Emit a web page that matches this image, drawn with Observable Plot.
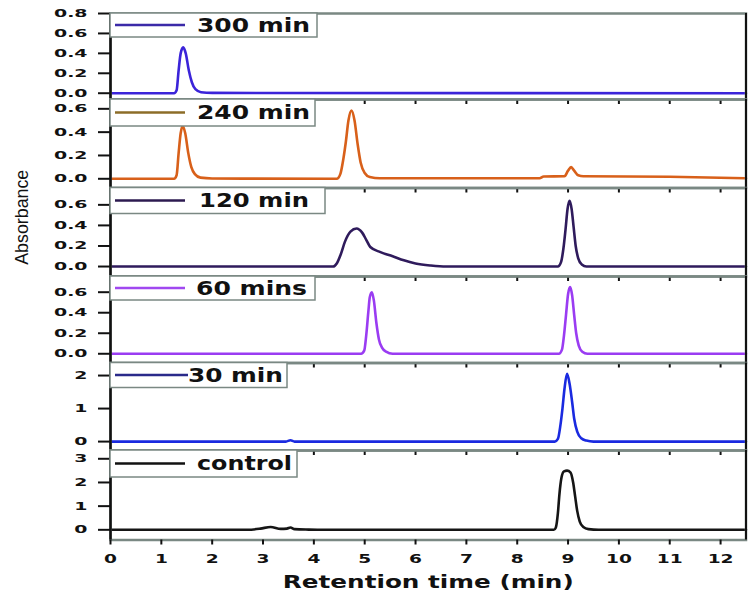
<!DOCTYPE html>
<html><head><meta charset="utf-8">
<script src="https://cdn.jsdelivr.net/npm/d3@7"></script>
<script src="https://cdn.jsdelivr.net/npm/@observablehq/plot@0.6"></script>
<style>
body{margin:0;background:#fff;}
#chart{position:relative;width:756px;height:598px;overflow:hidden;background:#fff}
#chart svg{position:absolute;left:0;top:0;overflow:visible;background:transparent}
</style></head><body><div id="chart"></div>
<script>
// ---- data (retention time in min, absorbance) ----
const xDomain = [0, 12.5];
const xTicks = [0,1,2,3,4,5,6,7,8,9,10,11,12];
const labels = ["300 min","240 min","120 min","60 mins","30 min","control"];
const xTitle = "Retention time (min)";
const yTitle = "Absorbance";
const colors = ["#3b24d9","#d8601a","#2f1b5c","#9a3cf2","#1a2ae0","#151515"];
const legendColors = ["#3b2aa8","#8c6d28","#2c1a50","#a048f0","#2a2a8a","#111111"];
const yDomains = [[-0.063,0.8],[-0.079,0.68],[-0.097,0.764],[-0.09,0.753],[-0.27,2.38],[-0.43,3.35]];
const yTicks = [[0,0.2,0.4,0.6,0.8],[0,0.2,0.4,0.6],[0,0.2,0.4,0.6],[0,0.2,0.4,0.6],[0,1,2],[0,1,2,3]];

const s300 = [[0,0],[1.25,0],[1.30,0.03],[1.34,0.23],[1.38,0.40],[1.43,0.46],[1.48,0.40],[1.54,0.23],[1.60,0.11],[1.67,0.04],[1.78,0.01],[2.0,0.003],[12.5,0]];
const s240 = [[0,0],[1.25,0],[1.30,0.03],[1.34,0.22],[1.38,0.39],[1.42,0.455],[1.47,0.39],[1.53,0.22],[1.59,0.10],[1.66,0.04],[1.77,0.01],[2.0,0.003],
  [4.45,0],[4.52,0.04],[4.58,0.17],[4.63,0.32],[4.68,0.50],[4.74,0.585],[4.80,0.50],[4.86,0.30],[4.92,0.14],[5.0,0.05],[5.1,0.015],[5.3,0.004],
  [8.44,0.004],[8.52,0.02],[8.93,0.022],[9.0,0.07],[9.06,0.10],[9.12,0.07],[9.2,0.03],[9.3,0.022],[11.0,0.018],[12.5,0.005]];
const s120 = [[0,0],[4.38,0],[4.45,0.03],[4.53,0.12],[4.61,0.24],[4.72,0.34],[4.84,0.37],[4.95,0.33],[5.03,0.26],[5.11,0.19],[5.31,0.14],[5.55,0.10],[5.77,0.06],[6.0,0.03],[6.3,0.01],[6.6,0],
  [8.80,0],[8.86,0.04],[8.91,0.18],[8.95,0.36],[8.99,0.56],[9.03,0.64],[9.07,0.56],[9.11,0.38],[9.15,0.2],[9.2,0.08],[9.27,0.02],[9.36,0],[12.5,0]];
const s60 = [[0,0],[4.93,0],[4.99,0.03],[5.03,0.18],[5.07,0.40],[5.10,0.55],[5.14,0.60],[5.18,0.52],[5.23,0.30],[5.28,0.14],[5.34,0.06],[5.42,0.02],[5.55,0],
  [8.82,0],[8.88,0.04],[8.92,0.18],[8.96,0.38],[9.0,0.58],[9.04,0.65],[9.08,0.57],[9.12,0.38],[9.16,0.2],[9.21,0.08],[9.28,0.02],[9.38,0],[12.5,0]];
const s30 = [[0,0],[3.45,0],[3.54,0.04],[3.62,0],[8.74,0],[8.80,0.08],[8.85,0.5],[8.89,1.0],[8.93,1.6],[8.98,2.05],[9.03,1.75],[9.08,1.2],[9.12,0.7],[9.18,0.3],[9.26,0.1],[9.36,0.03],[9.5,0],[12.5,0]];
const sCtrl = [[0,0],[2.7,0],[2.95,0.05],[3.15,0.12],[3.35,0.04],[3.47,0.05],[3.54,0.10],[3.62,0.03],[3.9,0.01],[4.2,0],
  [8.72,0],[8.76,0.1],[8.80,0.7],[8.83,1.5],[8.87,2.2],[8.92,2.47],[8.98,2.5],[9.05,2.42],[9.1,2.0],[9.14,1.4],[9.18,0.8],[9.23,0.35],[9.3,0.12],[9.4,0.03],[9.6,0],[12.5,0]];
const series = [s300, s240, s120, s60, s30, sCtrl];

// ---- layout ----
const W = 756, H = 598;
const frames = [[13,99],[99,187.5],[187.5,276],[276,362.5],[362.5,450],[450,539.5]];
const legendBox = [[207,24],[205,27],[215,26],[205,24],[177,25],[187,27]];
const legendTextX = [87,87,89,86,78,87];
const legendTextW = [113,113,110,111,95,95];
const gray = "#7a8883";

function legendMark(i) {
  return (index, scales, values, dims) => {
    const g = d3.create("svg:g");
    const x0 = dims.marginLeft, y0 = dims.marginTop;
    const [w, h] = legendBox[i];
    g.append("rect").attr("x", x0).attr("y", y0).attr("width", w).attr("height", h)
      .attr("fill", "white").attr("stroke", gray).attr("stroke-width", 1.5);
    g.append("line").attr("x1", x0 + 5).attr("x2", x0 + (i === 4 ? 78 : 75))
      .attr("y1", y0 + h / 2).attr("y2", y0 + h / 2)
      .attr("stroke", legendColors[i]).attr("stroke-width", 2.4);
    g.append("text").attr("x", x0 + legendTextX[i]).attr("y", y0 + h / 2).attr("dy", "0.36em")
      .attr("text-anchor", "start")
      .attr("font-family", "DejaVu Sans").attr("font-weight", "bold").attr("font-size", 19)
      .attr("fill", "#111").attr("textLength", legendTextW[i]).attr("lengthAdjust", "spacingAndGlyphs")
      .text(labels[i]);
    return g.node();
  };
}

// horizontal stretch of a text element about its own anchor point
function stretchX(t, f) {
  const x = parseFloat(t.getAttribute("x")) || 0;
  const tr = t.getAttribute("transform") || "";
  t.setAttribute("transform", `${tr} translate(${x},0) scale(${f},1) translate(${-x},0)`);
}

const chart = document.getElementById("chart");
frames.forEach(([top, bottom], i) => {
  const last = i === frames.length - 1;
  const marks = [
    Plot.line(series[i], {x: d => d[0], y: d => d[1], stroke: colors[i], strokeWidth: 2.6, curve: "monotone-x"}),
    Plot.frame({stroke: gray, strokeWidth: 2.5}),
    Plot.ruleX([xDomain[0]], {stroke: "#111", strokeWidth: 2.5}),
    Plot.ruleX([xDomain[1]], {stroke: "#111", strokeWidth: 2}),
    Plot.axisY({ticks: yTicks[i], tickFormat: i < 4 ? d3.format(".1f") : d3.format("d"),
      tickSize: 12, tickPadding: 11, strokeWidth: 2, fontSize: 11, label: null}),
    Plot.axisX({ticks: xTicks, tickSize: 5, strokeWidth: 2, tickPadding: 9, fontSize: 12,
      tickFormat: last ? d3.format("d") : () => "", label: null}),
    legendMark(i)
  ];
  if (i === 2) marks.push(Plot.text([yTitle], {text: d => d, frameAnchor: "left", textAnchor: "middle", dx: -89, dy: -15, rotate: -90,
    fontSize: 19, fontWeight: "normal", fontFamily: "Liberation Sans Narrow, Liberation Sans, sans-serif"}));
  if (last) marks.push(Plot.text([xTitle], {text: d => d, frameAnchor: "bottom", dy: 42.5, lineAnchor: "middle",
    fontSize: 17, fontWeight: "bold"}));
  const svg = Plot.plot({
    width: W, height: H,
    marginLeft: 110, marginRight: 10.5, marginTop: top, marginBottom: H - bottom,
    style: {background: "transparent", overflow: "visible", fontFamily: "DejaVu Sans", fontWeight: "bold", color: "#111"},
    x: {domain: xDomain},
    y: {domain: yDomains[i]},
    marks
  });
  chart.appendChild(svg);
  svg.querySelectorAll("text").forEach(t => {
    const p = t.closest("g[aria-label]");
    const lab = p ? p.getAttribute("aria-label") : "";
    const s = t.textContent;
    if (/y-axis/.test(lab) && s) stretchX(t, 1.72);
    else if (/x-axis/.test(lab) && s) stretchX(t, 1.55);
    else if (s === yTitle || s === xTitle) {
      t.setAttribute("textLength", s === yTitle ? 95 : 291);
      t.setAttribute("lengthAdjust", "spacingAndGlyphs");
    }
  });
});
</script></body></html>
